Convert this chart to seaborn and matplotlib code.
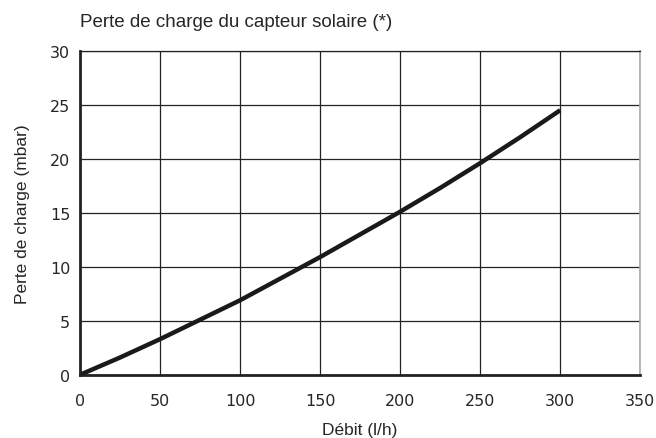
import numpy as np
import pandas as pd
import matplotlib
matplotlib.use("Agg")
import matplotlib.pyplot as plt
import seaborn as sns

# flow rate (l/h) vs pressure drop (mbar)
debit = [0, 25, 50, 75, 100, 125, 150, 175, 200, 225, 250, 275, 300]
perte = [0, 1.6, 3.3, 5.1, 6.9, 8.9, 10.9, 13.0, 15.1, 17.3, 19.6, 22.0, 24.5]
x_ticks = [0, 50, 100, 150, 200, 250, 300, 350]
y_ticks = [0, 5, 10, 15, 20, 25, 30]

sns.set_theme(style="white")
plt.rcParams["font.family"] = ["DejaVu Sans"]
LABEL_FONT = ["Liberation Sans", "DejaVu Sans"]

df = pd.DataFrame({"Débit": debit, "Perte": perte})

fig = plt.figure(figsize=(6.56, 4.39), dpi=100)
ax = fig.add_axes([0.122, 0.144, 0.854, 0.738])

sns.lineplot(data=df, x="Débit", y="Perte", ax=ax, color="#1a1a1a",
             linewidth=3.2, solid_capstyle="butt")

ax.set_xlim(0, 350)
ax.set_ylim(0, 30)
ax.set_xticks(x_ticks)
ax.set_yticks(y_ticks)
ax.grid(True, color="#222222", linewidth=0.9)
ax.set_axisbelow(True)

for side in ["left", "bottom"]:
    ax.spines[side].set_color("#222222")
    ax.spines[side].set_linewidth(2.0)
ax.spines["top"].set_color("#222222")
ax.spines["top"].set_linewidth(0.9)
ax.spines["right"].set_color("#aaaaaa")
ax.spines["right"].set_linewidth(1.2)

ax.tick_params(axis="both", direction="out", length=3, width=1.2,
               color="#222222", labelsize=11.5, pad=4)
ax.tick_params(axis="x", pad=10)

ax.set_xlabel("Débit (l/h)", fontsize=12.5, family=LABEL_FONT, labelpad=10)
ax.set_ylabel("Perte de charge (mbar)", fontsize=12.5, family=LABEL_FONT,
              labelpad=14)
ax.set_title("Perte de charge du capteur solaire (*)", loc="left",
             fontsize=13.5, family=LABEL_FONT, pad=18)

plt.savefig("out.png", dpi=100)
plt.close()
